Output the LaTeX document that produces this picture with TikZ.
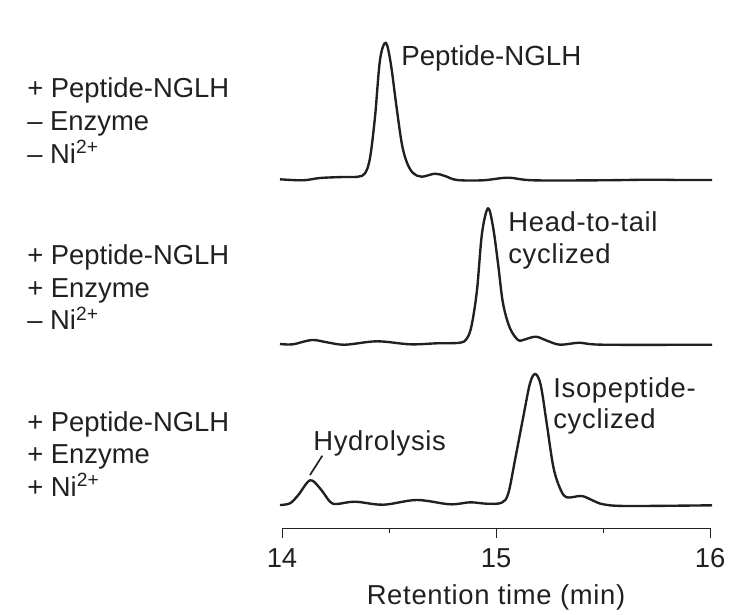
\documentclass[tikz,border=0pt]{standalone}
\usepackage{fontspec}
\setmainfont{Liberation Sans}
\newfontfamily\widesans[LetterSpace=2.5]{Liberation Sans}
\definecolor{inkblack}{HTML}{231F20}
\tikzset{
  lab/.style={anchor=base west,inner sep=0pt,text=inkblack,font=\fontsize{15.6}{18}\selectfont},
  widelab/.style={lab,font=\fontsize{15.6}{18}\widesans},
  ticklab/.style={anchor=base,inner sep=0pt,text=inkblack,font=\fontsize{15.6}{18}\selectfont},
  trace/.style={inkblack,line width=1.35pt,smooth,tension=0.55,line join=round},
  axisline/.style={inkblack,line width=0.6pt}
}
\begin{document}
\begin{tikzpicture}[x=0.02cm,y=-0.02cm]
\useasboundingbox(0,0)rectangle(754,615);
% conditions
\node[lab](pepA)at(27,98){+ Peptide-NGLH};
\node[lab](enzA)at(27,131){– Enzyme};
\node[lab](niA)at(27,163){– Ni\textsuperscript{2+}};
\node[lab](pepB)at(27,264.5){+ Peptide-NGLH};
\node[lab](enzB)at(27,297){+ Enzyme};
\node[lab](niB)at(27,329.5){– Ni\textsuperscript{2+}};
\node[lab](pepC)at(27,431){+ Peptide-NGLH};
\node[lab](enzC)at(27,463.5){+ Enzyme};
\node[lab](niC)at(27,496){+ Ni\textsuperscript{2+}};
% traces
\draw[trace]plot coordinates{(280,179.3)(303,180.3)(320,178)(343,177)(358,176.7)(365,173.3)(370,158)(375,117)(380,60)(385.7,42.7)(390.7,63)(396,103)(401.7,143)(406.7,162)(413,173)(421.7,176.7)(435,173.7)(445,176)(457,180)(483,180.3)(508,177.7)(533,180.3)(600,180.3)(650,179.7)(680,180)(712,180)};
\draw[trace]plot coordinates{(280,344)(293,344.3)(311.7,340)(327,342.3)(345,344.7)(377,341.3)(410,344.3)(437,343.3)(460,342.7)(467,338.3)(471.7,325)(477,290)(482,233.3)(488,208.3)(493,226.7)(498,263.3)(503,303.3)(510,328.3)(518,340)(523,340)(535.7,336.7)(547,340.7)(560,344.7)(580,342.7)(603,344.7)(712,344.7)};
\draw[trace]plot coordinates{(280,505)(290,503.3)(298.3,495)(310,480.3)(320,488.3)(330,501.7)(336.7,504)(355,501.7)(383.3,504.7)(416.7,500)(450,504.3)(470,502.3)(486.7,503.7)(501.7,502.7)(508.3,493.3)(515,460)(523.3,416.7)(530,383.3)(535.3,374)(540.7,385)(546.7,423.3)(553.3,466.7)(560,488.3)(566.7,497.3)(581.7,496)(593.3,500.7)(603.3,504.3)(626.7,506)(712,505.3)};
% peak labels
\node[lab](peakA)at(401,66){\fontsize{15.75}{18}\selectfont Peptide-NGLH};
\node[widelab](peakB)at(508,231){Head-to-tail};
\node[widelab](peakBb)at(508,263){cyclized};
\node[widelab](peakC)at(553,397){Isopeptide-};
\node[widelab](peakCb)at(553,428){cyclized};
\node[widelab](hydro)at(313,450){Hydrolysis};
\coordinate(hydroA)at(322.3,455.7);
\coordinate(hydroB)at(310,475);
\draw[inkblack,line width=0.95pt](hydroA)--(hydroB);
% axis
\coordinate(axL)at(282.3,528.3);
\coordinate(axR)at(710.7,528.3);
\draw[axisline](axL)--(axR);
\foreach \tx in {282.3,496.7,710.7}
  \draw[axisline](\tx,528.3)--++(0,9.4);
\foreach \tx in {389.5,603.7}
  \draw[axisline](\tx,528.3)--++(0,4.4);
\node[ticklab](tickA)at(282,567){14};
\node[ticklab](tickB)at(496,567){15};
\node[ticklab](tickC)at(710,567){16};
\node[ticklab,font=\fontsize{15.6}{18}\widesans](xlab)at(496,604){Retention time (min)};
\end{tikzpicture}
\end{document}
